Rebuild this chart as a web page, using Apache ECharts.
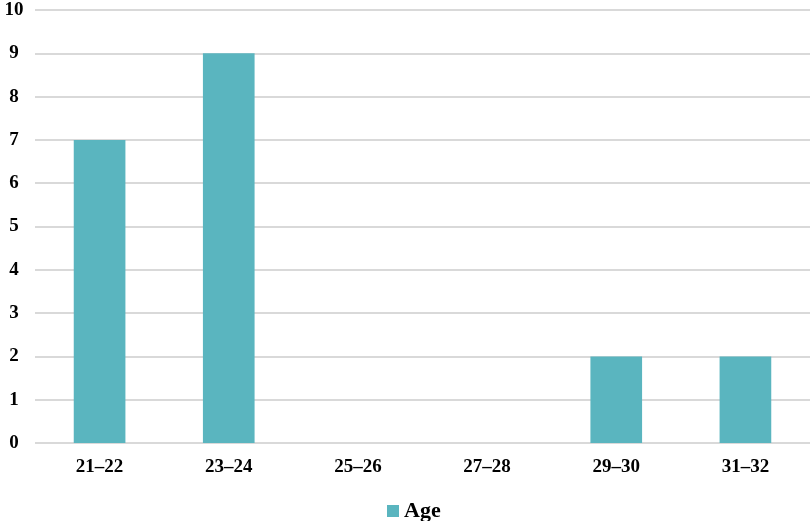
<!DOCTYPE html>
<html>
<head>
    <meta charset="UTF-8">
    <title>Age</title>
    <script src="https://cdn.jsdelivr.net/npm/echarts@6/dist/echarts.min.js"></script>
    <style>
        html, body { margin: 0; padding: 0; background: #fff; }
    </style>
</head>
<body>

<div id="main" style="width: 810px;height:521px"></div>

<script type="text/javascript">
    // 数据
    var categories = ['21–22', '23–24', '25–26', '27–28', '29–30', '31–32'];
    var ageCounts = [7, 9, 0, 0, 2, 2];
    var seriesName = 'Age';

    var myChart = echarts.init(document.getElementById('main'));
    var labelFont = {
        fontFamily: '"Liberation Serif", "Times New Roman", serif',
        fontWeight: 'bold',
        color: '#000'
    };
    option = {
        animation: false,
        grid: {
            left: 35,
            right: 0,
            top: 10,
            bottom: 78
        },
        legend: {
            data: [seriesName],
            left: 382,
            top: 495,
            itemWidth: 12,
            itemHeight: 12,
            itemGap: 5,
            icon: 'rect',
            textStyle: Object.assign({ fontSize: 22 }, labelFont)
        },
        xAxis: {
            type: 'category',
            data: categories,
            axisLine: { show: false },
            axisTick: { show: false },
            axisLabel: Object.assign({ fontSize: 19, margin: 15 }, labelFont)
        },
        yAxis: {
            type: 'value',
            min: 0,
            max: 10,
            interval: 1,
            axisLine: { show: false },
            axisTick: { show: false },
            splitLine: { lineStyle: { color: '#d9d9d9', width: 2 } },
            axisLabel: Object.assign({ fontSize: 19, margin: 21, align: 'center' }, labelFont)
        },
        series: [{
            name: seriesName,
            type: 'bar',
            barWidth: '40%',
            data: ageCounts,
            itemStyle: {
                color: '#5ab5bf'
            }
        }]
    };
    myChart.setOption(option);
</script>
</body>
</html>
